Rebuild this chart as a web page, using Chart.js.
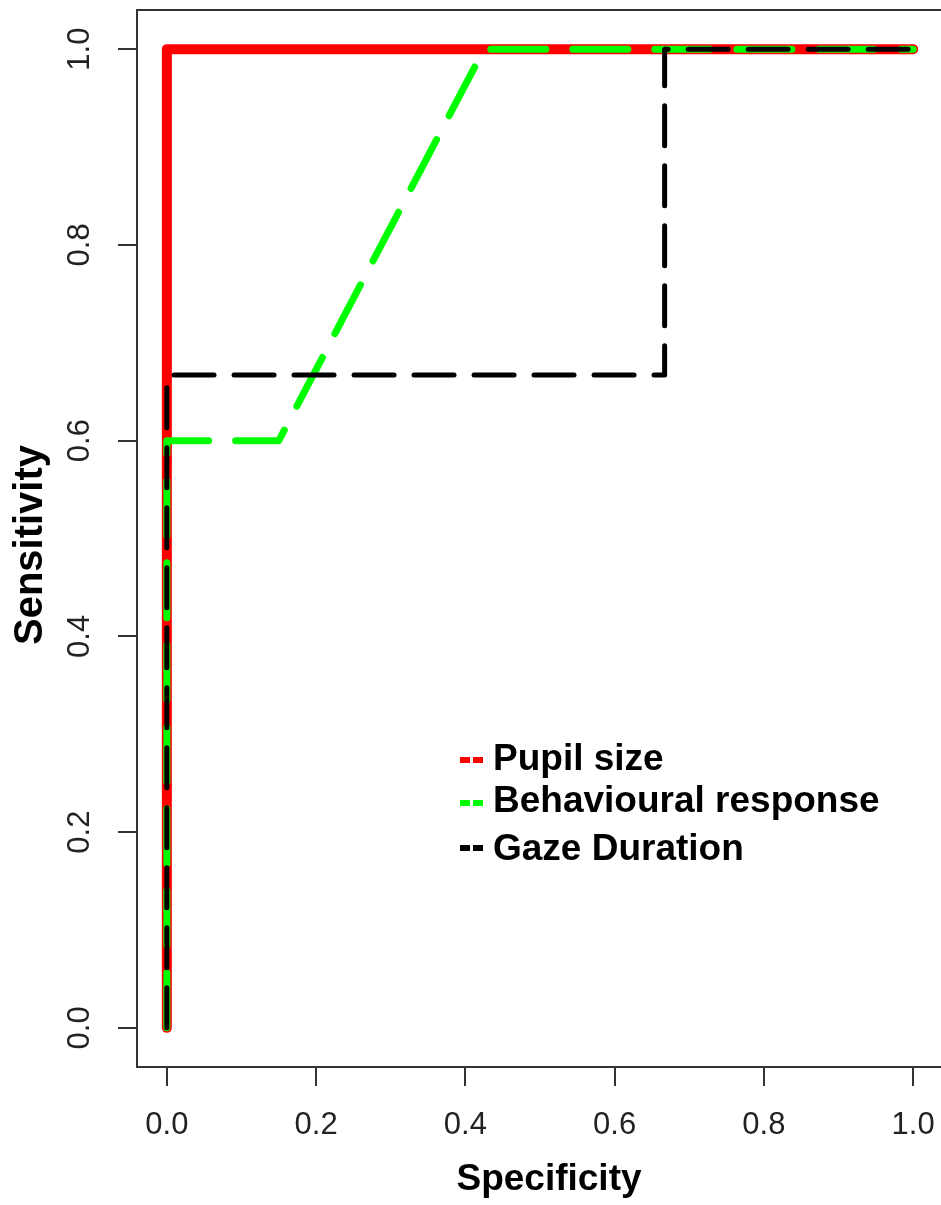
<!DOCTYPE html>
<html>
<head>
<meta charset="UTF-8">
<title>ROC curves</title>
<script src="https://cdn.jsdelivr.net/npm/chart.js"></script>
<style>
  html, body { margin: 0; padding: 0; background: #fff; overflow: hidden; }
  #wrap { width: 960px; height: 1205px; }
</style>
</head>
<body>
<div id="wrap"><canvas id="roc" width="960" height="1205"></canvas></div>
<script>
// ROC data
const seriesNames = ['Pupil size', 'Behavioural response', 'Gaze Duration'];
const seriesColors = ['#ff0000', '#00ff00', '#000000'];

const pupilSpec = [0, 0, 1];
const pupilSens = [0, 1, 1];

const behavSpec = [0, 0, 0.15, 0.425, 1];
const behavSens = [0, 0.6, 0.6, 1, 1];

const gazeSpec = [0, 0, 0.667, 0.667, 1];
const gazeSens = [0, 0.667, 0.667, 1, 1];

const xTicks = [0, 0.2, 0.4, 0.6, 0.8, 1.0];
const yTicks = [0, 0.2, 0.4, 0.6, 0.8, 1.0];
const tickLabels = ['0.0', '0.2', '0.4', '0.6', '0.8', '1.0'];

const FONT = '"Liberation Sans", Arial, sans-serif';

function toPoints(xs, ys) {
    return xs.map((x, i) => ({ x: x, y: ys[i] }));
}

// R style box, rotated y labels, axis titles and the legend
const rPlot = {
    id: 'rPlot',
    beforeDatasetsDraw(chart) {
        const ctx = chart.ctx, a = chart.chartArea;
        ctx.save();
        ctx.strokeStyle = '#333';
        ctx.lineWidth = 2;
        ctx.strokeRect(a.left, a.top, a.right - a.left, a.bottom - a.top);
        ctx.restore();
    },
    afterDraw(chart) {
        const ctx = chart.ctx;
        const xs = chart.scales.x, ys = chart.scales.y;
        ctx.save();

        // tick labels
        ctx.fillStyle = '#222';
        ctx.font = '31px ' + FONT;
        ctx.textAlign = 'center';
        ctx.textBaseline = 'middle';
        xTicks.forEach((v, i) => ctx.fillText(tickLabels[i], xs.getPixelForValue(v), 1125));
        yTicks.forEach((v, i) => {
            ctx.save();
            ctx.translate(80, ys.getPixelForValue(v));
            ctx.rotate(-Math.PI / 2);
            ctx.fillText(tickLabels[i], 0, 0);
            ctx.restore();
        });

        // axis titles
        ctx.fillStyle = '#000';
        ctx.textBaseline = 'alphabetic';
        ctx.font = 'bold 37px ' + FONT;
        ctx.fillText('Specificity', 549, 1190);
        ctx.save();
        ctx.translate(42, 545);
        ctx.rotate(-Math.PI / 2);
        ctx.font = 'bold 40px ' + FONT;
        ctx.fillText('Sensitivity', 0, 0);
        ctx.restore();

        // legend
        const rows = [760, 803, 848];
        const baselines = [770, 812, 860];
        ctx.textAlign = 'left';
        ctx.font = 'bold 37px ' + FONT;
        seriesNames.forEach((name, i) => {
            ctx.save();
            ctx.strokeStyle = seriesColors[i];
            ctx.lineWidth = 6;
            ctx.setLineDash([10, 3]);
            ctx.beginPath();
            ctx.moveTo(460, rows[i]);
            ctx.lineTo(483, rows[i]);
            ctx.stroke();
            ctx.restore();
            ctx.fillStyle = '#000';
            ctx.fillText(name, 493, baselines[i]);
        });
        ctx.restore();
    }
};

const hidden = 'rgba(0,0,0,0)';

new Chart(document.getElementById('roc'), {
    type: 'scatter',
    data: {
        datasets: [
            {
                label: seriesNames[0],
                data: toPoints(pupilSpec, pupilSens),
                showLine: true,
                borderColor: seriesColors[0],
                borderWidth: 10,
                borderCapStyle: 'round',
                borderJoinStyle: 'round',
                pointRadius: 0,
                tension: 0,
                order: 3
            },
            {
                label: seriesNames[1],
                data: toPoints(behavSpec, behavSens),
                showLine: true,
                borderColor: seriesColors[1],
                borderWidth: 7,
                borderDash: [55, 27],
                borderCapStyle: 'round',
                borderJoinStyle: 'round',
                pointRadius: 0,
                tension: 0,
                order: 2
            },
            {
                label: seriesNames[2],
                data: toPoints(gazeSpec, gazeSens),
                showLine: true,
                borderColor: seriesColors[2],
                borderWidth: 5,
                borderDash: [40, 20],
                borderCapStyle: 'round',
                borderJoinStyle: 'round',
                pointRadius: 0,
                tension: 0,
                order: 1
            }
        ]
    },
    options: {
        responsive: false,
        animation: false,
        devicePixelRatio: 1,
        layout: { padding: { top: 10, right: 17, left: 0, bottom: 0 } },
        plugins: {
            legend: { display: false },
            tooltip: { enabled: false }
        },
        scales: {
            x: {
                type: 'linear',
                min: -0.04,
                max: 1.04,
                afterBuildTicks: s => { s.ticks = xTicks.map(v => ({ value: v })); },
                afterFit: s => { s.height = 138; s.paddingLeft = 0; s.paddingRight = 0; },
                ticks: { color: hidden, font: { size: 1 } },
                grid: { drawOnChartArea: false, drawTicks: true, tickLength: 19, color: '#333', lineWidth: 2 },
                border: { display: false }
            },
            y: {
                type: 'linear',
                min: -0.04,
                max: 1.04,
                afterBuildTicks: s => { s.ticks = yTicks.map(v => ({ value: v })); },
                afterFit: s => { s.width = 137; s.paddingTop = 0; s.paddingBottom = 0; },
                ticks: { color: hidden, font: { size: 1 } },
                grid: { drawOnChartArea: false, drawTicks: true, tickLength: 19, color: '#333', lineWidth: 2 },
                border: { display: false }
            }
        }
    },
    plugins: [rPlot]
});
</script>
</body>
</html>
